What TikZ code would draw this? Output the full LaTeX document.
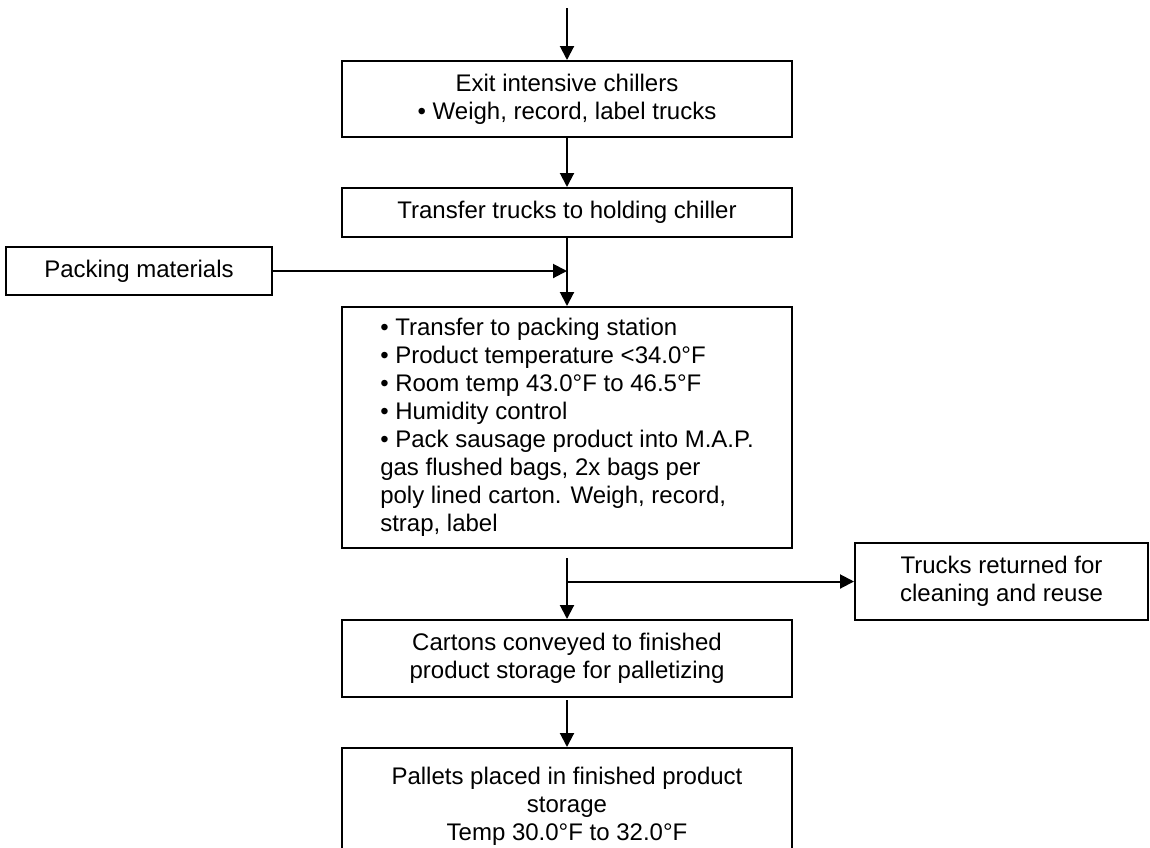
\documentclass[tikz,border=0pt]{standalone}
\usepackage{fontspec}
\setmainfont{Liberation Sans}
\usetikzlibrary{positioning, arrows.meta, calc}

\begin{document}
\begin{tikzpicture}[x=0.5pt, y=-0.5pt]
\tikzset{proc/.style={draw, rectangle, line width=1pt, minimum width=225pt, minimum height=38pt, fill=white, inner sep=2pt, align=center, font=\fontsize{12}{14}\selectfont},
flow/.style={-{Triangle[length=7pt,width=7pt]}, line width=1pt}}
\useasboundingbox (0,0) rectangle (1150,847);
\node[proc] (exit) at (567,99) {Exit intensive chillers\\• Weigh, record, label trucks};
\node[proc, minimum height=24.5pt] (hold) at (567,212.5) {Transfer trucks to holding chiller};
\node[proc, minimum width=133pt, minimum height=24pt] (packmat) at (139,271) {Packing materials};
\node[proc, minimum height=120.5pt, align=left] (pack) at (567,427.5) {• Transfer to packing station\\• Product temperature <34.0°F\\• Room temp 43.0°F to 46.5°F\\• Humidity control\\• Pack sausage product into M.A.P.\\gas flushed bags, 2x bags per\\poly lined carton. Weigh, record,\\strap, label};
\node[proc, minimum width=146.5pt, minimum height=38.5pt] (trucks) at (1001.5,581.5) {Trucks returned for\\cleaning and reuse};
\node[proc, minimum height=38.5pt] (cartons) at (567,658.5) {Cartons conveyed to finished\\product storage for palletizing};
\node[proc, minimum height=58pt] (pallets) at (567,806) {Pallets placed in finished product\\storage\\Temp 30.0°F to 32.0°F};
\coordinate (entry) at (567,8);
\coordinate (split) at (567,558);
\coordinate (stack) at (567,700);
\draw[flow] (entry) -- (exit);
\draw[flow] (exit) -- (hold);
\draw[flow] (hold) -- (pack);
\draw[flow] (packmat) -- (packmat -| hold.south);
\draw[flow] (split) -- (cartons);
\draw[flow] (split |- trucks.west) -- (trucks);
\draw[flow] (stack) -- (pallets);
\end{tikzpicture}
\end{document}
